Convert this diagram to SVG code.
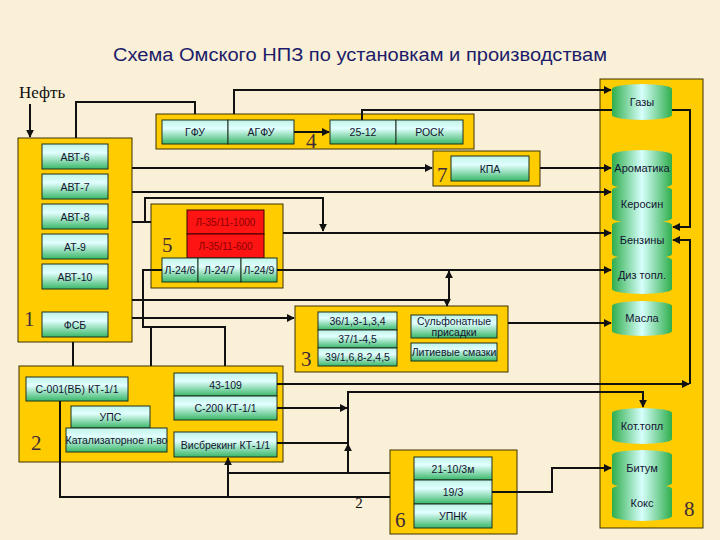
<svg xmlns="http://www.w3.org/2000/svg" width="720" height="540" viewBox="0 0 720 540">
<defs>
<linearGradient id="gu" x1="0" y1="0" x2="0" y2="1">
<stop offset="0" stop-color="#BFF3E6"/><stop offset="0.35" stop-color="#E2FFFF"/><stop offset="1" stop-color="#39B768"/>
</linearGradient>
<linearGradient id="gc" x1="0" y1="0" x2="1" y2="0">
<stop offset="0" stop-color="#2FAE4C"/><stop offset="0.5" stop-color="#D6FFFB"/><stop offset="1" stop-color="#2FAE4C"/>
</linearGradient>
<marker id="a" viewBox="0 0 10 10" refX="9" refY="5" markerWidth="4" markerHeight="4" orient="auto"><path d="M0,0L10,5L0,10z" fill="#111"/></marker>
</defs>
<style>
.yb{fill:#FFCC00;stroke:#3a3000;stroke-width:1}
.u{fill:url(#gu);stroke:#1e3020;stroke-width:1}
.r{fill:#FF1414;stroke:#3a0000;stroke-width:1}
.cy{fill:url(#gc)}
.t{font-family:"Liberation Sans",Arial,sans-serif;font-size:10.5px;fill:#141432;text-anchor:middle;dominant-baseline:central}
.tc{font-family:"Liberation Sans",Arial,sans-serif;font-size:11px;fill:#141432;text-anchor:middle;dominant-baseline:central}
.tr{font-family:"Liberation Sans",Arial,sans-serif;font-size:10px;fill:#8A0000;text-anchor:middle;dominant-baseline:central}
.n{font-family:"Liberation Serif","Times New Roman",serif;font-size:21px;fill:#3d2a3a}
.c{fill:none;stroke:#111;stroke-width:2}
.ca{fill:none;stroke:#111;stroke-width:2;marker-end:url(#a)}
</style>
<rect width="720" height="540" fill="#FAF0D7"/>
<text x="360" y="61" text-anchor="middle" textLength="494" lengthAdjust="spacingAndGlyphs" font-family="'Liberation Sans',Arial,sans-serif" font-size="18" fill="#1C1C6A">Схема Омского НПЗ по установкам и производствам</text>
<text x="19" y="98" font-family="'Liberation Serif','Times New Roman',serif" font-size="17" fill="#111">Нефть</text>

<g id="n1">
<rect class="yb" x="18" y="138" width="114" height="204"/>
<rect class="u" x="42" y="144" width="66" height="25"/><text class="t" x="75" y="156.5">АВТ-6</text>
<rect class="u" x="42" y="174" width="66" height="25"/><text class="t" x="75" y="186.5">АВТ-7</text>
<rect class="u" x="42" y="204" width="66" height="25"/><text class="t" x="75" y="216.5">АВТ-8</text>
<rect class="u" x="42" y="234" width="66" height="25"/><text class="t" x="75" y="246.5">АТ-9</text>
<rect class="u" x="42" y="264" width="66" height="25"/><text class="t" x="75" y="276.5">АВТ-10</text>
<rect class="u" x="42" y="312" width="66" height="25"/><text class="t" x="75" y="324.5">ФСБ</text>
<text class="n" x="24" y="326">1</text>
</g>

<g id="n4">
<rect class="yb" x="156" y="114" width="318" height="35"/>
<rect class="u" x="162" y="120" width="66" height="24"/><text class="t" x="195" y="132">ГФУ</text>
<rect class="u" x="228" y="120" width="66" height="24"/><text class="t" x="261" y="132">АГФУ</text>
<rect class="u" x="330" y="120" width="66" height="24"/><text class="t" x="363" y="132">25-12</text>
<rect class="u" x="396" y="120" width="67" height="24"/><text class="t" x="429.5" y="132">РОСК</text>
<text class="n" x="306" y="148" fill="#3a2060">4</text>
</g>

<g id="n7">
<rect class="yb" x="433" y="151" width="107" height="35"/>
<rect class="u" x="451" y="156" width="78" height="25"/><text class="t" x="490" y="168.5">КПА</text>
<text class="n" x="437" y="182">7</text>
</g>

<g id="n5">
<rect class="yb" x="151" y="204" width="132" height="84"/>
<rect class="r" x="187" y="210" width="77" height="24"/><text class="tr" x="225.5" y="222">Л-35/11-1000</text>
<rect class="r" x="187" y="234" width="77" height="24"/><text class="tr" x="225.5" y="246">Л-35/11-600</text>
<rect class="u" x="162" y="258" width="36" height="24"/><text class="t" x="180" y="270">Л-24/6</text>
<rect class="u" x="198" y="258" width="43" height="24"/><text class="t" x="219.5" y="270">Л-24/7</text>
<rect class="u" x="241" y="258" width="36" height="24"/><text class="t" x="259" y="270">Л-24/9</text>
<text class="n" x="162" y="252">5</text>
</g>

<g id="n3">
<rect class="yb" x="295" y="306" width="213" height="66"/>
<rect class="u" x="318" y="312" width="79" height="18"/><text class="t" x="357.5" y="321">36/1,3-1,3,4</text>
<rect class="u" x="318" y="330" width="79" height="18"/><text class="t" x="357.5" y="339">37/1-4,5</text>
<rect class="u" x="318" y="348" width="79" height="18"/><text class="t" x="357.5" y="357">39/1,6,8-2,4,5</text>
<rect class="u" x="411" y="315" width="86" height="23"/><text class="t" x="454" y="321">Сульфонатные</text><text class="t" x="454" y="332">присадки</text>
<rect class="u" x="411" y="343" width="86" height="18"/><text class="t" x="454" y="352">Литиевые смазки</text>
<text class="n" x="301" y="366">3</text>
</g>

<g id="n2">
<rect class="yb" x="19" y="366" width="264" height="96"/>
<rect class="u" x="26" y="377" width="102" height="24"/><text class="t" x="77" y="389">С-001(ВБ) КТ-1/1</text>
<rect class="u" x="71" y="406" width="79" height="22"/><text class="t" x="110.5" y="417">УПС</text>
<rect class="u" x="66" y="428" width="101" height="24"/><text class="t" x="116.5" y="440">Катализаторное п-во</text>
<rect class="u" x="174" y="373" width="103" height="23"/><text class="t" x="225.5" y="384.5">43-109</text>
<rect class="u" x="174" y="396" width="103" height="24"/><text class="t" x="225.5" y="408">С-200 КТ-1/1</text>
<rect class="u" x="174" y="432" width="103" height="25"/><text class="t" x="225.5" y="444.5">Висбрекинг КТ-1/1</text>
<text class="n" x="31" y="450">2</text>
</g>

<g id="n6">
<rect class="yb" x="390" y="450" width="127" height="84"/>
<rect class="u" x="414" y="457" width="78" height="23"/><text class="t" x="453" y="468.5">21-10/3м</text>
<rect class="u" x="414" y="480" width="78" height="24"/><text class="t" x="453" y="492">19/3</text>
<rect class="u" x="414" y="504" width="78" height="24"/><text class="t" x="453" y="516">УПНК</text>
<text class="n" x="395" y="527">6</text>
</g>

<g id="n8">
<rect class="yb" x="600" y="79" width="103" height="449"/>
<path class="cy" d="M612,89A30,5 0 0 1 672,89V115A30,5 0 0 1 612,115Z"/><text class="tc" x="642" y="102">Газы</text>
<path class="cy" d="M612,155A30,5 0 0 1 672,155V184A30,5 0 0 1 612,184Z"/><text class="tc" x="642" y="168">Ароматика</text>
<path class="cy" d="M612,190A30,5 0 0 1 672,190V218A30,5 0 0 1 612,218Z"/><text class="tc" x="642" y="204">Керосин</text>
<path class="cy" d="M612,225A30,5 0 0 1 672,225V254A30,5 0 0 1 612,254Z"/><text class="tc" x="642" y="240">Бензины</text>
<path class="cy" d="M612,260A30,5 0 0 1 672,260V289A30,5 0 0 1 612,289Z"/><text class="tc" x="642" y="275">Диз топл.</text>
<path class="cy" d="M612,306A30,5 0 0 1 672,306V331A30,5 0 0 1 612,331Z"/><text class="tc" x="642" y="318">Масла</text>
<path class="cy" d="M612,413A30,5 0 0 1 672,413V439A30,5 0 0 1 612,439Z"/><text class="tc" x="642" y="426">Кот.топл</text>
<path class="cy" d="M612,455A30,5 0 0 1 672,455V483A30,5 0 0 1 612,483Z"/><text class="tc" x="642" y="468">Битум</text>
<path class="cy" d="M612,489A30,5 0 0 1 672,489V516A30,5 0 0 1 612,516Z"/><text class="tc" x="642" y="503">Кокс</text>
<text class="n" x="684" y="516">8</text>
</g>

<g id="connectors">
<path class="ca" d="M30,104V137"/>
<path class="c" d="M76,138V102H195V114"/>
<path class="ca" d="M234,114V90H611"/>
<path class="c" d="M362,120V110H612"/>
<path class="ca" d="M294,132H329"/>
<path class="ca" d="M672,110H690V227H673"/>
<path class="ca" d="M277,384H689"/>
<path class="ca" d="M690,384V240H673"/>
<path class="ca" d="M540,168H611"/>
<path class="ca" d="M132,168H432"/>
<path class="ca" d="M132,192H611"/>
<path class="c" d="M132,222H151"/>
<path class="ca" d="M145,222V198H323V231"/>
<path class="ca" d="M283,233H611"/>
<path class="ca" d="M277,270H611"/>
<path class="c" d="M162,270H143V327H225V366"/>
<path class="c" d="M151,327V366"/>
<path class="c" d="M73,342V366"/>
<path class="ca" d="M132,300H449V271"/>
<path class="ca" d="M447,299V306"/>
<path class="ca" d="M132,318H294"/>
<path class="ca" d="M508,323H611"/>
<path class="ca" d="M277,408H347"/>
<path class="c" d="M277,443H348"/>
<path class="c" d="M390,473H228"/>
<path class="ca" d="M348,473V444"/>
<path class="ca" d="M348,446V392H643V407"/>
<path class="c" d="M390,497H60V401"/>
<path class="ca" d="M228,497V458"/>
<path class="ca" d="M492,492H552V468H611"/>
</g>
<text x="359" y="508" text-anchor="middle" font-family="'Liberation Serif','Times New Roman',serif" font-size="15" fill="#111">2</text>
</svg>
